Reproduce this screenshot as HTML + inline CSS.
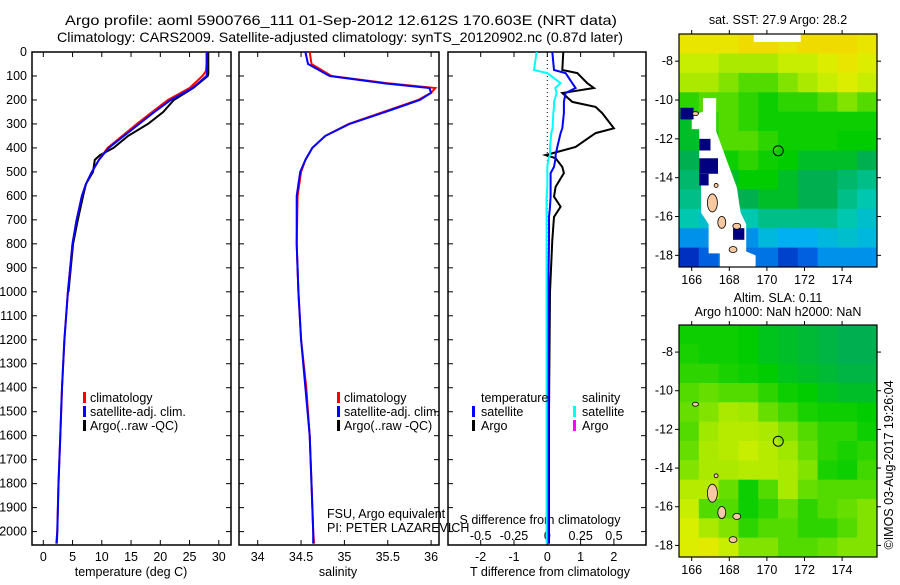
<!DOCTYPE html>
<html><head><meta charset="utf-8"><style>
body{margin:0;background:#fff;}
svg text{font-family:"Liberation Sans",sans-serif;font-size:12.5px;fill:#000;}
</style></head><body>
<svg id="s" width="900" height="580" xmlns="http://www.w3.org/2000/svg">
<rect width="900" height="580" fill="#fff"/>
<text x="341" y="25" text-anchor="middle" style="font-size:14px" textLength="552" lengthAdjust="spacingAndGlyphs">Argo profile: aoml 5900766_111 01-Sep-2012 12.612S 170.603E (NRT data)</text>
<text x="340" y="42" text-anchor="middle" style="font-size:14px" textLength="566" lengthAdjust="spacingAndGlyphs">Climatology: CARS2009. Satellite-adjusted climatology: synTS_20120902.nc (0.87d later)</text>
<g id="g"></g>
</svg>
<script>
// ---------- data ----------
const depthTicks=[0,100,200,300,400,500,600,700,800,900,1000,1100,1200,1300,1400,1500,1600,1700,1800,1900,2000];
const tempTicks=[0,5,10,15,20,25,30];
const salTicks=[34,34.5,35,35.5,36];
const tdTicks=[-2,-1,0,1,2];
const sdTickLabels=["-0.5","-0.25","0","0.25","0.5"];
const sdTicks=[-0.5,-0.25,0,0.25,0.5];

const tDepth=[0,50,80,100,150,200,250,300,350,400,450,500,550,600,700,800,900,1000,1200,1400,1600,1800,2000,2050];
const tClim=[27.9,27.9,27.8,27.2,25,21.3,18.6,16,13.5,11,9.5,8.3,7.3,6.6,5.7,5,4.6,4.2,3.6,3.2,2.9,2.6,2.4,2.2];
const tSat=[28.0,28.0,28.0,27.9,25.5,21.8,19,16.4,13.8,11.2,9.5,8.3,7.3,6.6,5.7,5,4.6,4.2,3.6,3.2,2.9,2.6,2.4,2.3];
const argoDepth=[0,50,90,100,150,200,250,300,350,400,430,450,500,550,600,700,800,900,1000];
const tArgo=[28.2,28.2,28.2,28.1,25.6,22.3,20.5,17.9,14.5,12,9.7,8.8,8.5,7.3,6.8,5.9,5.1,4.7,4.3];

const sDepth=[0,50,100,130,150,170,200,250,300,350,400,450,500,600,800,1000,1200,1400,1600,1800,2000,2050];
const sClim=[34.6,34.62,34.85,35.5,36.05,36.0,35.85,35.45,35.05,34.78,34.63,34.55,34.5,34.46,34.45,34.47,34.5,34.56,34.6,34.62,34.64,34.65];
const sSat=[34.55,34.58,34.83,35.45,35.98,36.0,35.87,35.47,35.06,34.78,34.63,34.55,34.49,34.45,34.45,34.47,34.5,34.55,34.6,34.62,34.64,34.64];

const dDepth=[0,75,88,130,150,171,208,229,255,318,338,396,430,443,479,505,562,603,645,688,784,1000,1500,2050];
const tdArgo=[0.48,0.45,0.9,1.2,1.4,0.45,0.75,1.45,1.65,2.0,1.45,0.85,-0.05,0.25,0.45,0.5,0.25,0.2,0.4,0.2,0.15,0.08,0.05,0.05];
const tdSat=[0.15,0.2,0.55,0.75,0.85,0.55,0.5,0.5,0.5,0.45,0.4,0.3,0.25,0.25,0.2,0.1,0.1,0.1,0.08,0.05,0.05,0.03,0.02,0.02];
const sdSat=[-0.08,-0.1,0,0.1,0.06,0.07,0.05,0.05,0.045,0.04,0.03,0.02,0.02,0.01,0,0,0,-0.005,-0.005,-0.005,-0.005,-0.005,-0.005,-0.005];

const lonTicks=[166,168,170,172,174];
const latTicks=[-8,-10,-12,-14,-16,-18];
const sstGrid=[
[.85,.85,.85,.9,.9,.85,.9,.9,.9,.85],
[.75,.75,.7,.7,.7,.75,.75,.8,.85,.8],
[.7,.7,.65,.6,.6,.65,.7,.75,.8,.75],
[.55,.6,.6,.55,.5,.55,.55,.6,.65,.6],
[.45,.55,.6,.55,.5,.5,.5,.5,.5,.5],
[.45,.5,.6,.6,.55,.5,.5,.5,.48,.48],
[.42,.45,.5,.55,.5,.48,.45,.45,.45,.42],
[.4,.4,.45,.48,.48,.45,.42,.42,.4,.38],
[.38,.38,.4,.42,.45,.45,.42,.42,.38,.35],
[.35,.32,.35,.35,.38,.38,.38,.38,.35,.32],
[.25,.25,.28,.25,.3,.28,.28,.3,.32,.3],
[.12,.2,.25,.22,.22,.15,.2,.25,.25,.25]];
const slaGrid=[
[.5,.5,.5,.48,.46,.45,.44,.43,.42,.42],
[.52,.5,.5,.48,.46,.45,.44,.43,.42,.42],
[.55,.55,.52,.5,.48,.46,.45,.44,.43,.43],
[.6,.62,.6,.6,.55,.5,.48,.46,.45,.45],
[.62,.65,.7,.68,.62,.58,.52,.5,.5,.48],
[.6,.68,.72,.72,.7,.65,.6,.55,.55,.5],
[.62,.7,.72,.75,.72,.68,.62,.55,.52,.55],
[.65,.7,.7,.72,.72,.7,.65,.52,.5,.58],
[.72,.72,.62,.5,.6,.7,.62,.6,.6,.6],
[.75,.6,.6,.5,.55,.62,.55,.6,.62,.65],
[.78,.7,.65,.55,.6,.6,.55,.55,.6,.65],
[.8,.82,.75,.65,.65,.6,.6,.62,.65,.65]];
const argoLon=170.603, argoLat=-12.612;

// ---------- helpers ----------
const NS="http://www.w3.org/2000/svg";
const G=document.getElementById('g');
function el(t,a,p){const e=document.createElementNS(NS,t);for(const k in a)e.setAttribute(k,a[k]);(p||G).appendChild(e);return e;}
const Y=d=>52+d*0.2398;
const PT=52, PB=545;
function panel(x0,x1,name){
  const r=el('rect',{x:x0,y:PT,width:x1-x0,height:PB-PT,fill:'none',stroke:'#000','stroke-width':1.5});
  
  
}
function xTicks(xs,f,labels,ly,name){
  xs.forEach((v,i)=>{const x=f(v);
    const t=el('line',{x1:x,x2:x,y1:PB,y2:PB-5,stroke:'#000'});
    
    el('line',{x1:x,x2:x,y1:PT,y2:PT+5,stroke:'#000'});
    const tx=el('text',{x:x,y:ly,'text-anchor':'middle'});tx.textContent=labels[i];
    
  });
}
function line(ds,vs,f,color,w,name){
  const pts=ds.map((d,i)=>f(vs[i]).toFixed(1)+','+Y(d).toFixed(1)).join(' ');
  const p=el('polyline',{points:pts,fill:'none',stroke:color,'stroke-width':w});
  
  
}
function txt(x,y,s,name,anchor){const t=el('text',{x:x,y:y,'text-anchor':anchor||'start'});t.textContent=s;
  return t;}
function legendMark(x,y,c,name){const r=el('rect',{x:x,y:y-10,width:3,height:11,fill:c});
  }

// ---------- panel 1 temperature ----------
const fx1=v=>43.3+v*5.85;
panel(32,231,'temperature-panel');
depthTicks.forEach(d=>{
  el('line',{x1:32,x2:37,y1:Y(d),y2:Y(d),stroke:'#000'});
  el('line',{x1:226,x2:231,y1:Y(d),y2:Y(d),stroke:'#000'});
  txt(27,Y(d)+4,String(d),'depth-tick-label','end');
});
xTicks(tempTicks,fx1,tempTicks.map(String),561,'temperature-axis');
txt(131,576,'temperature (deg C)','temperature-axis-title','middle');
line(argoDepth,tArgo,fx1,'#000',2,'argo-temperature-line');
line(tDepth,tClim,fx1,'#f00',2,'climatology-temperature-line');
line(tDepth,tSat,fx1,'#00f',2,'satellite-temperature-line');
legendMark(83,402,'#f00','legend-climatology-marker');txt(90,402,'climatology','legend-climatology');
legendMark(83,416,'#00f','legend-satellite-marker');txt(90,416,'satellite-adj. clim.','legend-satellite');
legendMark(83,430,'#000','legend-argo-marker');txt(90,430,'Argo(..raw -QC)','legend-argo');

// ---------- panel 2 salinity ----------
const fx2=v=>257.7+(v-34)*86.7;
panel(239,439,'salinity-panel');
depthTicks.forEach(d=>{
  el('line',{x1:239,x2:244,y1:Y(d),y2:Y(d),stroke:'#000'});
  el('line',{x1:434,x2:439,y1:Y(d),y2:Y(d),stroke:'#000'});
});
xTicks(salTicks,fx2,salTicks.map(String),561,'salinity-axis');
txt(338,576,'salinity','salinity-axis-title','middle');
line(sDepth,sClim,fx2,'#f00',2,'climatology-salinity-line');
line(sDepth,sSat,fx2,'#00f',2,'satellite-salinity-line');
legendMark(337,402,'#f00','legend2-climatology-marker');txt(344,402,'climatology','legend2-climatology');
legendMark(337,416,'#00f','legend2-satellite-marker');txt(344,416,'satellite-adj. clim.','legend2-satellite');
legendMark(337,430,'#000','legend2-argo-marker');txt(344,430,'Argo(..raw -QC)','legend2-argo');
txt(327,518,'FSU, Argo equivalent','float-info');
txt(327,532,'PI: PETER LAZAREVICH','pi-info');

// ---------- panel 3 differences ----------
const fx3=v=>547.3+v*33.3;
const fs3=v=>547.3+v*133.3;
panel(448,646,'difference-panel');
depthTicks.forEach(d=>{
  el('line',{x1:448,x2:453,y1:Y(d),y2:Y(d),stroke:'#000'});
  el('line',{x1:641,x2:646,y1:Y(d),y2:Y(d),stroke:'#000'});
});
xTicks(tdTicks,fx3,tdTicks.map(String),561,'t-difference-axis');
sdTicks.forEach((v,i)=>txt(fs3(v),540,sdTickLabels[i],'s-difference-tick-label','middle'));
txt(540,524,'S difference from climatology','s-difference-axis-title','middle');
txt(550,576,'T difference from climatology','t-difference-axis-title','middle');
el('line',{x1:fx3(0),x2:fx3(0),y1:52,y2:PB,stroke:'#000','stroke-dasharray':'1,3'});
line(dDepth,tdArgo,fx3,'#000',2,'argo-t-difference-line');
line(dDepth,tdSat,fx3,'#00f',2,'satellite-t-difference-line');
line(dDepth,sdSat,fs3,'#0ff',2,'satellite-s-difference-line');
txt(481,402,'temperature','legend3-temperature-header');
txt(582,402,'salinity','legend3-salinity-header');
legendMark(472,416,'#00f','legend3-t-satellite-marker');txt(481,416,'satellite','legend3-t-satellite');
legendMark(472,430,'#000','legend3-t-argo-marker');txt(481,430,'Argo','legend3-t-argo');
legendMark(573,416,'#0ff','legend3-s-satellite-marker');txt(582,416,'satellite','legend3-s-satellite');
legendMark(573,430,'#f0f','legend3-s-argo-marker');txt(582,430,'Argo','legend3-s-argo');

// ---------- maps ----------
const stops=[[0,[0,0,128]],[.12,[0,48,192]],[.2,[0,96,224]],[.28,[0,176,240]],[.35,[0,200,176]],[.42,[0,176,80]],[.48,[0,204,0]],[.58,[64,216,0]],[.68,[160,232,0]],[.78,[216,240,0]],[.88,[240,224,0]],[1,[240,192,0]]];
function cmap(v){for(let i=1;i<stops.length;i++){if(v<=stops[i][0]){const a=stops[i-1],b=stops[i],t=(v-a[0])/(b[0]-a[0]);
  return 'rgb('+a[1].map((c,k)=>Math.round(c+(b[1][k]-c)*t)).join(',')+')';}}return 'rgb(240,192,0)';}
function map(top,bot,grid,name,nan){
  const L=679,R=877;
  const lx=v=>691.7+(v-166)*18.8;
  const lat=v=>top+(-6.6-v)*(bot-top)/12;
  const rows=grid.length, cols=grid[0].length, cw=(R-L)/cols, ch=(bot-top)/rows;
  grid.forEach((row,r)=>row.forEach((v,c)=>{
    const cell=el('rect',{x:L+c*cw,y:top+r*ch,width:cw+0.5,height:ch+0.5,fill:cmap(v)});
    
    
  }));
  if(nan){
    const p=el('path',{d:`M${lx(166.6)},${lat(-9.9)} L${lx(167.3)},${lat(-9.9)} L${lx(167.3)},${lat(-11.6)} L${lx(167.9)},${lat(-13.2)} L${lx(168.4)},${lat(-14.5)} L${lx(168.6)},${lat(-15.8)} L${lx(168.9)},${lat(-16.4)} L${lx(168.9)},${lat(-17.8)} L${lx(169.4)},${lat(-18.0)} L${lx(169.4)},${lat(-18.6)} L${lx(167.5)},${lat(-18.6)} L${lx(167.5)},${lat(-17.9)} L${lx(166.9)},${lat(-17.9)} L${lx(166.9)},${lat(-16.4)} L${lx(166.5)},${lat(-15.8)} L${lx(166.5)},${lat(-14.3)} L${lx(166.4)},${lat(-13.5)} L${lx(166.4)},${lat(-11.5)} L${lx(166.0)},${lat(-11.5)} L${lx(166.0)},${lat(-10.8)} L${lx(166.6)},${lat(-10.6)} Z`,fill:'#fff'});
    
    [[166.4,-12.0,0.6,0.6],[166.4,-13.0,1.0,0.8],[166.4,-13.8,0.5,0.6],[168.2,-16.6,0.6,0.6],[165.4,-10.4,0.7,0.6]].forEach(b=>{
      const q=el('rect',{x:lx(b[0]),y:lat(b[1]),width:b[2]*18.8,height:b[3]*19.4,fill:'#000080'});
      });
    el('rect',{x:lx(169.3),y:lat(-6.6),width:lx(171.8)-lx(169.3),height:8,fill:'#fff'});
  }
  [[167.1,-15.3,5,9],[167.6,-16.3,4,6],[168.2,-17.7,4,3],[168.4,-16.5,4,3],[166.2,-10.7,3,2],[167.3,-14.4,2,2]].forEach(b=>{
    const e=el('ellipse',{cx:lx(b[0]),cy:lat(b[1]),rx:b[2],ry:b[3],fill:'#f8c8a0',stroke:'#000','stroke-width':0.8});
    });
  const c=el('circle',{cx:lx(argoLon),cy:lat(argoLat),r:5,fill:'none',stroke:'#000','stroke-width':1});
  
  const fr=el('rect',{x:L,y:top,width:R-L,height:bot-top,fill:'none',stroke:'#000','stroke-width':1.2});
  
  lonTicks.forEach(v=>{const x=lx(v);el('line',{x1:x,x2:x,y1:bot,y2:bot+4,stroke:'#000'});el('line',{x1:x,x2:x,y1:top,y2:top-4,stroke:'#000'});
    txt(x,bot+17,String(v),name+'-lon-label','middle');});
  latTicks.forEach(v=>{const y=lat(v);el('line',{x1:L,x2:L-4,y1:y,y2:y,stroke:'#000'});el('line',{x1:R,x2:R+4,y1:y,y2:y,stroke:'#000'});
    txt(L-6,y+4,String(v),name+'-lat-label','end');});
}
map(34,267,sstGrid,'sst-map',true);
map(325,557,slaGrid,'sla-map',false);
txt(778,24,'sat. SST: 27.9 Argo: 28.2','sst-map-title','middle');
txt(778,302,'Altim. SLA: 0.11','sla-map-title','middle');
txt(778,316,'Argo h1000: NaN h2000: NaN','sla-map-subtitle','middle');
const d=txt(0,0,'©IMOS 03-Aug-2017 19:26:04','timestamp','middle');
d.setAttribute('transform','translate(893,465) rotate(-90)');
</script>
</body></html>
